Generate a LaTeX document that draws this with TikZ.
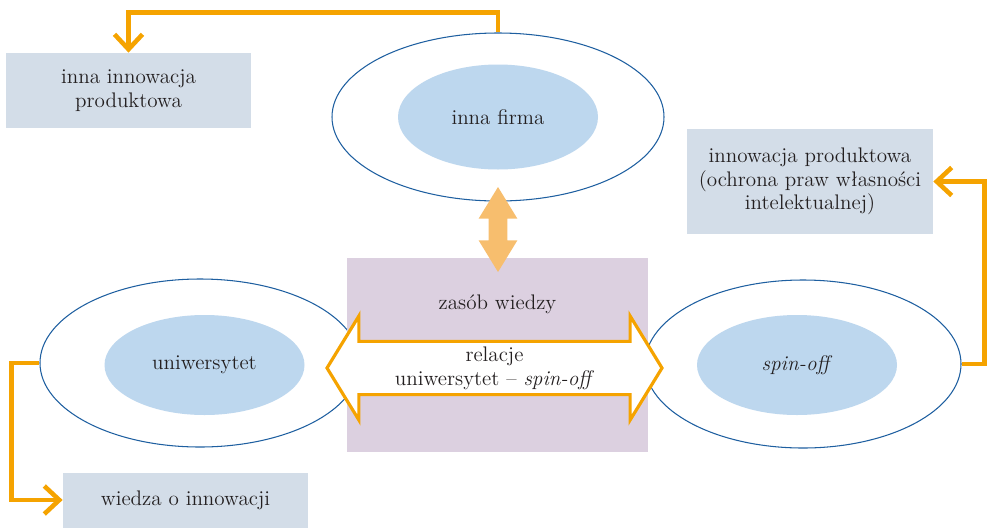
\documentclass[tikz,border=0pt]{standalone}
\usetikzlibrary{shapes.geometric,shapes.arrows,arrows.meta,positioning}
\definecolor{boxblue}{RGB}{211,221,232}
\definecolor{innerblue}{RGB}{189,215,238}
\definecolor{rimblue}{RGB}{30,95,160}
\definecolor{lilac}{RGB}{220,208,224}
\definecolor{linkorange}{RGB}{245,163,0}
\definecolor{softorange}{RGB}{247,190,110}
\definecolor{inktext}{RGB}{35,31,32}
\tikzset{
    outcome/.style={fill=boxblue, text=inktext, align=center, minimum width=4.90cm, inner sep=2pt},
    outerell/.style={ellipse, draw=rimblue, fill=white, line width=0.6pt, minimum width=6.40cm, minimum height=3.36cm},
    innerell/.style={ellipse, fill=innerblue, text=inktext, minimum width=4.00cm, minimum height=2.00cm},
    link/.style={draw=linkorange, line width=2.6pt, -{Straight Barb[length=0.30cm, width=0.56cm]}},
}
\begin{document}
\begin{tikzpicture}[font=\fontsize{12}{13.5}\selectfont]
            \useasboundingbox (0.00,0.00) rectangle (19.80,-10.56);
            \node[outerell, minimum width=6.64cm] (firmaout) at (9.96,-2.34) {};
            \node[innerell, minimum height=2.10cm] (firma) at (9.96,-2.34) {inna firma};
            \node[outerell] (uniout) at (4.00,-7.26) {};
            \node[innerell] (uni) at (4.09,-7.30) {uniwersytet};
            \node[outerell, minimum width=6.32cm] (spinout) at (16.06,-7.28) {};
            \node[innerell] (spin) at (15.94,-7.30) {\textit{spin-off}};
            \node[fill=lilac, minimum width=6.02cm, minimum height=3.88cm] (zasob) at (9.95,-7.10) {};
            \node[text=inktext, below=0.62cm of zasob.north] (zasobtxt) {zasób wiedzy};
            \node[double arrow, draw=linkorange, fill=white, line width=1.8pt, text=inktext, align=center,
                  minimum height=6.70cm, minimum width=2.08cm, double arrow head extend=0.47cm,
                  double arrow tip angle=117, inner sep=0pt, inner ysep=1pt] (relacje) at (9.89,-7.36)
                  {relacje\\uniwersytet -- \textit{spin-off}};
            \node[double arrow, fill=softorange, rotate=90, minimum height=1.70cm, minimum width=0.76cm,
                  double arrow head extend=0.20cm, double arrow tip angle=63, inner xsep=0pt,
                  inner ysep=0.18cm] (swap) at (9.96,-4.59) {};
            \node[outcome, minimum height=1.50cm] (produkt) at (2.57,-1.81) {inna innowacja\\produktowa};
            \node[outcome, minimum width=4.92cm, minimum height=2.10cm] (ochrona) at (16.20,-3.63)
                  {innowacja produktowa\\(ochrona praw własności\\intelektualnej)};
            \node[outcome, minimum height=1.10cm] (wiedza) at (3.71,-10.00) {wiedza o innowacji};
            \draw[link] (firmaout.north) -- ++(0,0.40) -| (produkt.north);
            \draw[link] (spinout.east) -- ++(0.46,0) |- (ochrona.east);
            \draw[link] (uniout.west) -- ++(-0.56,0) |- (wiedza.west);
\end{tikzpicture}
\end{document}
